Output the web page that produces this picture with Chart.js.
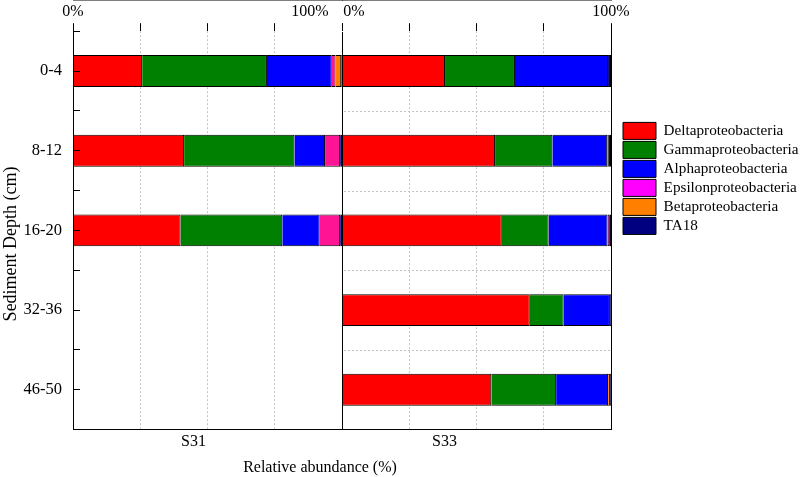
<!DOCTYPE html>
<html>
<head>
<meta charset="utf-8">
<script src="https://cdn.jsdelivr.net/npm/chart.js@4.4.1/dist/chart.umd.min.js"></script>
<style>
  html, body { margin: 0; padding: 0; background: #fff; }
</style>
</head>
<body>
<canvas id="chart" width="800" height="477"></canvas>
<script>
const depths = ["0-4", "8-12", "16-20", "32-36", "46-50"];
const taxa = [
  "Deltaproteobacteria",
  "Gammaproteobacteria",
  "Alphaproteobacteria",
  "Epsilonproteobacteria",
  "Betaproteobacteria",
  "TA18"
];
const taxaColors = ["#ff0000", "#008000", "#0000ff", "#ff00ff", "#ff8000", "#000080"];
const s31EpsilonColor = "#ff1493";

// S31 (left panel), % per depth
const s31Delta = [25.7, 41.3, 40.0, null, null];
const s31Gamma = [46.4, 41.0, 37.8, null, null];
const s31Alpha = [24.1, 11.4, 13.9, null, null];
const s31Epsilon = [1.4, 5.6, 7.6, null, null];
const s31Beta = [2.1, 0, 0, null, null];
const s31TA18 = [0.3, 0.7, 0.7, null, null];

// S33 (right panel)
const s33Delta = [38.3, 56.9, 59.4, 69.8, 55.5];
const s33Gamma = [26.0, 21.3, 17.4, 12.6, 24.1];
const s33Alpha = [34.6, 20.4, 21.9, 17.2, 19.3];
const s33Epsilon = [0, 0.6, 0.6, 0, 0];
const s33Beta = [0, 0, 0, 0, 0.7];
const s33TA18 = [1.1, 0.8, 0.7, 0.4, 0.4];

const s31 = [s31Delta, s31Gamma, s31Alpha, s31Epsilon, s31Beta, s31TA18];
const s33 = [s33Delta, s33Gamma, s33Alpha, s33Epsilon, s33Beta, s33TA18];

const pad = (n) => "\u00A0".repeat(n);

Chart.defaults.font.family = '"Liberation Serif", "Times New Roman", serif';
Chart.defaults.color = "#000";

function makeDatasets(values, axisId, sample) {
  return values.map((data, i) => ({
    label: taxa[i],
    sample: sample,
    data: data,
    xAxisID: axisId,
    yAxisID: "y",
    backgroundColor: sample === "S31" && i === 3 ? s31EpsilonColor : taxaColors[i],
    borderColor: "#000",
    borderWidth: 1,
    barPercentage: 0.4,
    categoryPercentage: 1.0
  }));
}

const datasets = makeDatasets(s31, "x1", "S31").concat(makeDatasets(s33, "x2", "S33"));

// dotted row separators, only inside the S33 panel
const panelGrid = {
  id: "panelGrid",
  beforeDatasetsDraw(chart) {
    const xs = chart.scales.x2;
    const ys = chart.scales.y;
    const ctx = chart.ctx;
    ctx.save();
    ctx.strokeStyle = "#c4c4c4";
    ctx.lineWidth = 1;
    ctx.setLineDash([2, 2]);
    for (let i = 0; i < depths.length - 1; i++) {
      const py = Math.round((ys.getPixelForValue(i) + ys.getPixelForValue(i + 1)) / 2) + 0.5;
      ctx.beginPath();
      ctx.moveTo(xs.left + 2, py);
      ctx.lineTo(xs.right, py);
      ctx.stroke();
    }
    ctx.restore();
  }
};

function topAxis(weight, labelFn) {
  return {
    type: "linear",
    axis: "x",
    position: "top",
    stack: "top",
    stackWeight: 1,
    weight: weight,
    stacked: true,
    min: 0,
    max: 100,
    ticks: {
      stepSize: 25,
      autoSkip: false,
      maxRotation: 0,
      minRotation: 0,
      padding: 2,
      font: { size: 16 },
      color: "#000",
      callback: labelFn
    },
    grid: {
      z: 1,
      color: (ctx) => (weight === 1 && ctx.tick && ctx.tick.value === 100 ? "#000" : "rgba(0,0,0,0)"),
      tickColor: "#000",
      tickLength: 8,
      lineWidth: 1
    },
    border: { display: true, color: "#000", width: 1 }
  };
}

function bottomAxis(weight, title) {
  return {
    type: "linear",
    axis: "x",
    position: "bottom",
    stack: "bottom",
    stackWeight: 1,
    weight: weight,
    min: 0,
    max: 100,
    ticks: { display: false, stepSize: 25 },
    grid: {
      drawTicks: false,
      color: (ctx) => (ctx.tick && ctx.tick.value > 0 && ctx.tick.value < 100 ? "#c4c4c4" : "rgba(0,0,0,0)"),
      lineWidth: 1
    },
    border: { display: true, color: "#000", width: 1, dash: [2, 2] },
    title: {
      display: true,
      text: title,
      font: { size: 16 },
      color: "#000",
      padding: { top: 3, bottom: 0 }
    }
  };
}

new Chart(document.getElementById("chart"), {
  type: "bar",
  data: { labels: depths, datasets: datasets },
  plugins: [panelGrid],
  options: {
    indexAxis: "y",
    responsive: false,
    animation: false,
    events: [],
    layout: { padding: 0 },
    scales: {
      x1: topAxis(1, (v) => (v === 0 ? "0%" : v === 100 ? "100%" + pad(16) : "")),
      x2: topAxis(0, (v) => (v === 0 ? pad(6) + "0%" : v === 100 ? "100%" : "")),
      x1b: bottomAxis(0, "S31" + pad(7)),
      x2b: bottomAxis(1, "S33" + pad(16)),
      y: {
        type: "category",
        axis: "y",
        position: "left",
        weight: 0,
        stacked: true,
        offset: true,
        labels: depths,
        afterFit: (s) => { s.width = 73; },
        grid: {
          z: 1,
          offset: false,
          drawOnChartArea: false,
          tickLength: -7,
          tickColor: "#000"
        },
        border: { display: true, color: "#000", width: 1, z: 1 },
        ticks: { padding: 18, font: { size: 16.5 }, color: "#000" },
        title: {
          display: true,
          text: "Sediment Depth (cm)" + pad(6),
          font: { size: 18 },
          color: "#000",
          padding: { top: 0, bottom: 2 }
        }
      },
      yT: {
        type: "category",
        axis: "y",
        position: "left",
        weight: -1,
        offset: true,
        labels: depths,
        afterFit: (s) => { s.width = 0; },
        grid: {
          z: 1,
          offset: true,
          drawOnChartArea: false,
          tickLength: -7,
          tickColor: "#000"
        },
        border: { display: false },
        ticks: { display: false }
      },
      yR: {
        type: "category",
        axis: "y",
        position: "right",
        weight: 0,
        offset: true,
        labels: depths,
        afterFit: (s) => { s.width = 10; },
        grid: { drawOnChartArea: false, drawTicks: false },
        border: { display: true, color: "#000", width: 1, z: 1 },
        ticks: { display: false }
      }
    },
    plugins: {
      tooltip: { enabled: false },
      legend: {
        display: true,
        position: "right",
        align: "start",
        maxWidth: 179,
        title: { display: true, text: "", padding: { top: 0, bottom: 106 } },
        labels: {
          boxWidth: 33,
          boxHeight: 17,
          padding: 2,
          color: "#000",
          font: { size: 15.2 },
          filter: (item, data) => data.datasets[item.datasetIndex].sample === "S33"
        }
      },
      title: {
        display: true,
        position: "bottom",
        fullSize: false,
        text: "Relative abundance (%)" + pad(11),
        color: "#000",
        font: { size: 16, weight: "normal" },
        padding: { top: 6, bottom: 0 }
      }
    }
  }
});
</script>
</body>
</html>
